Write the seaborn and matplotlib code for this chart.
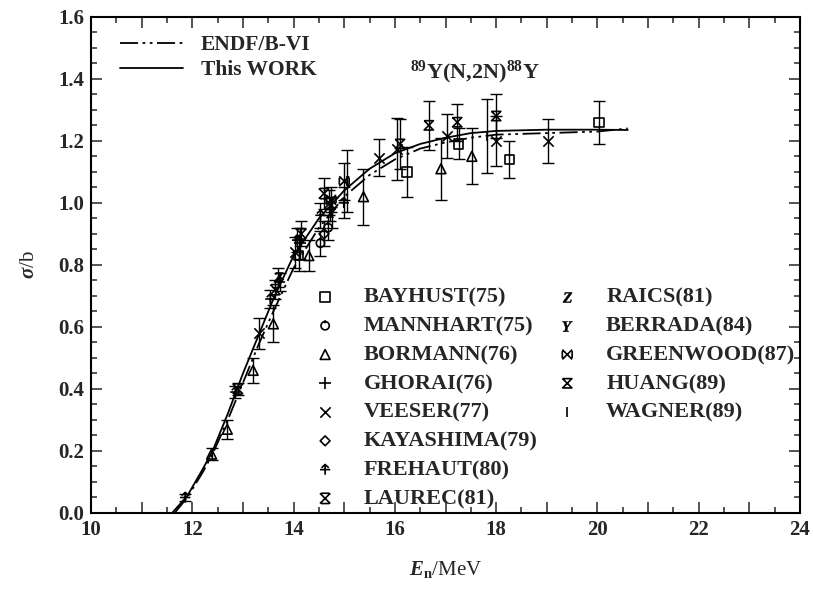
import numpy as np
import pandas as pd
import matplotlib
matplotlib.use("Agg")
import matplotlib.pyplot as plt
from matplotlib.path import Path
from matplotlib.ticker import MultipleLocator, FuncFormatter
import seaborn as sns

# ---------------- data ----------------
endf_x = [11.65, 11.9, 12.2, 12.4, 12.7, 13.0, 13.3, 13.6, 14.0, 14.5, 15.0, 15.5, 16.0, 16.5, 17.0, 17.5, 18.0, 19.0, 20.0, 20.6]
endf_y = [0.0, 0.05, 0.13, 0.19, 0.30, 0.42, 0.54, 0.65, 0.79, 0.92, 1.02, 1.09, 1.14, 1.175, 1.195, 1.21, 1.22, 1.225, 1.23, 1.24]
work_x = [11.6, 11.9, 12.2, 12.4, 12.7, 13.0, 13.3, 13.6, 14.0, 14.5, 15.0, 15.5, 16.0, 16.5, 17.0, 17.5, 18.0, 19.0, 20.0, 20.6]
work_y = [0.0, 0.055, 0.14, 0.20, 0.32, 0.45, 0.57, 0.69, 0.83, 0.95, 1.04, 1.11, 1.16, 1.19, 1.21, 1.225, 1.232, 1.236, 1.236, 1.235]

bayhust_x = [14.10, 16.24, 17.26, 18.26, 20.03]
bayhust_y = [0.83, 1.10, 1.19, 1.14, 1.26]
bayhust_e = [0.05, 0.08, 0.05, 0.06, 0.07]

mannhart_x = [14.53, 14.68]
mannhart_y = [0.87, 0.92]
mannhart_e = [0.04, 0.04]

bormann_x = [12.38, 12.69, 13.20, 13.60, 14.30, 15.38, 16.91, 17.52]
bormann_y = [0.19, 0.27, 0.46, 0.61, 0.83, 1.02, 1.11, 1.15]
bormann_e = [0.02, 0.03, 0.04, 0.06, 0.05, 0.09, 0.10, 0.09]

ghorai_x = [14.12, 14.72]
ghorai_y = [0.87, 0.98]
ghorai_e = [0.05, 0.04]

veeser_x = [13.31, 14.02, 14.70, 15.68, 16.04, 17.03, 18.00, 19.02]
veeser_y = [0.58, 0.84, 1.00, 1.146, 1.175, 1.216, 1.20, 1.20]
veeser_e = [0.05, 0.05, 0.04, 0.06, 0.10, 0.07, 0.08, 0.07]

kayashima_x = [14.60]
kayashima_y = [0.90]
kayashima_e = [0.04]

frehaut_x = [11.86, 12.85, 13.54, 13.73, 14.07, 14.53, 14.99]
frehaut_y = [0.05, 0.39, 0.69, 0.745, 0.88, 0.96, 1.00]
frehaut_e = [0.01, 0.02, 0.03, 0.03, 0.04, 0.04, 0.05]

laurec_x = [12.90, 13.64, 14.15, 14.60]
laurec_y = [0.40, 0.72, 0.90, 1.03]
laurec_e = [0.02, 0.03, 0.04, 0.05]

raics_x = [13.70]
raics_y = [0.76]
raics_e = [0.03]

berrada_x = [14.76]
berrada_y = [0.97]
berrada_e = [0.05]

greenwood_x = [14.74, 15.00]
greenwood_y = [1.01, 1.07]
greenwood_e = [0.04, 0.06]

huang_x = [16.10, 16.67, 17.23, 18.00]
huang_y = [1.19, 1.25, 1.26, 1.28]
huang_e = [0.08, 0.08, 0.06, 0.07]

wagner_x = [15.05, 17.82]
wagner_y = [1.07, 1.215]
wagner_e = [0.10, 0.12]

x_ticks = [10, 12, 14, 16, 18, 20, 22, 24]
y_ticks = [0.0, 0.2, 0.4, 0.6, 0.8, 1.0, 1.2, 1.4, 1.6]

# ---------------- custom markers ----------------
M, L = Path.MOVETO, Path.LINETO

def seg_path(segs):
    verts, codes = [], []
    for s in segs:
        for i, p in enumerate(s):
            verts.append(p)
            codes.append(M if i == 0 else L)
    return Path(verts, codes)

circle_tick = Path.make_compound_path(Path.unit_circle(), seg_path([[(0, 0.6), (0, 1.3)]]))
frehaut_m = seg_path([[(0, -1), (0, 1)], [(-1, 0), (1, 0)], [(-0.7, 0.35), (0, 1), (0.7, 0.35)]])
laurec_m = seg_path([[(-1, 1), (1, -1)], [(-1, -1), (1, 1)], [(-0.8, 1), (0.8, 1)], [(-0.8, -1), (0.8, -1)]])
greenwood_m = seg_path([[(-1, 1), (1, -1)], [(-1, -1), (1, 1)], [(-1, -0.7), (-1, 0.7)], [(1, -0.7), (1, 0.7)]])
huang_m = seg_path([[(-1, 1), (1, 1), (-1, -1), (1, -1), (-1, 1)]])

series = [
    ("BAYHUST(75)", bayhust_x, bayhust_y, bayhust_e, "s", "open", 45),
    ("MANNHART(75)", mannhart_x, mannhart_y, mannhart_e, circle_tick, "open", 60),
    ("BORMANN(76)", bormann_x, bormann_y, bormann_e, "^", "open", 50),
    ("GHORAI(76)", ghorai_x, ghorai_y, ghorai_e, "+", "line", 70),
    ("VEESER(77)", veeser_x, veeser_y, veeser_e, "x", "line", 55),
    ("KAYASHIMA(79)", kayashima_x, kayashima_y, kayashima_e, "D", "open", 25),
    ("FREHAUT(80)", frehaut_x, frehaut_y, frehaut_e, frehaut_m, "open", 55),
    ("LAUREC(81)", laurec_x, laurec_y, laurec_e, laurec_m, "open", 55),
    ("RAICS(81)", raics_x, raics_y, raics_e, "$Z$", "text", 55),
    ("BERRADA(84)", berrada_x, berrada_y, berrada_e, "$Y$", "text", 55),
    ("GREENWOOD(87)", greenwood_x, greenwood_y, greenwood_e, greenwood_m, "open", 50),
    ("HUANG(89)", huang_x, huang_y, huang_e, huang_m, "open", 45),
    ("WAGNER(89)", wagner_x, wagner_y, wagner_e, "|", "line", 60),
]

# ---------------- figure ----------------
sns.set_theme(style="ticks")
plt.rcParams["font.family"] = ["Liberation Serif", "DejaVu Serif"]
plt.rcParams["font.weight"] = "bold"
plt.rcParams["mathtext.fontset"] = "custom"
plt.rcParams["mathtext.rm"] = "Liberation Serif:bold"
plt.rcParams["mathtext.it"] = "Liberation Serif:italic:bold"
plt.rcParams["mathtext.bf"] = "Liberation Serif:bold"

fig = plt.figure(figsize=(8.13, 6.0), dpi=100)
ax = fig.add_axes([0.112, 0.145, 0.872, 0.827])

sns.lineplot(x=endf_x, y=endf_y, ax=ax, color="black", lw=1.3,
             linestyle=(0, (10, 2.5, 1.5, 2.5, 1.5, 2.5)), label="ENDF/B-VI",
             estimator=None, sort=False)
sns.lineplot(x=work_x, y=work_y, ax=ax, color="black", lw=1.3, label="This WORK",
             estimator=None, sort=False)

for name, xs, ys, es, mk, kind, size in series:
    ax.errorbar(xs, ys, yerr=es, fmt="none", ecolor="black", elinewidth=1.0,
                capsize=4, capthick=1.0, zorder=3)
    if kind == "line":
        sns.scatterplot(x=xs, y=ys, ax=ax, marker=mk, s=size, color="black",
                        linewidth=1.2, label=name, zorder=4)
    elif kind == "text":
        sns.scatterplot(x=xs, y=ys, ax=ax, marker=mk, s=size, color="black",
                        edgecolor="black", linewidth=0.3, label=name, zorder=4)
    else:
        sns.scatterplot(x=xs, y=ys, ax=ax, marker=mk, s=size, color="black",
                        facecolor="none", edgecolor="black", linewidth=1.2,
                        label=name, zorder=4)

handles, labels = ax.get_legend_handles_labels()
fs_leg = 16
leg_lines = ax.legend(handles[:2], labels[:2], loc="upper left", bbox_to_anchor=(0.041, 0.9625),
                      frameon=False, fontsize=15.5, handlelength=2.9, handletextpad=0.84,
                      labelspacing=0.22, borderpad=0, borderaxespad=0)
ax.add_artist(leg_lines)
leg1 = ax.legend(handles[2:10], labels[2:10], loc="upper left", bbox_to_anchor=(0.3145, 0.455),
                 frameon=False, fontsize=fs_leg, handlelength=1.0, handletextpad=1.25,
                 labelspacing=0.37, borderpad=0, borderaxespad=0)
ax.add_artist(leg1)
leg2 = ax.legend(handles[10:], labels[10:], loc="upper left", bbox_to_anchor=(0.656, 0.455),
                 frameon=False, fontsize=fs_leg, handlelength=1.0, handletextpad=1.25,
                 labelspacing=0.37, borderpad=0, borderaxespad=0)

ax.text(17.59, 1.42, r"$^{89}$Y(N,2N)$^{88}$Y", ha="center", va="center", fontsize=16,
        fontweight="bold")

ax.set_xlim(10, 24)
ax.set_ylim(0, 1.6)
ax.xaxis.set_major_locator(MultipleLocator(1))
ax.xaxis.set_minor_locator(MultipleLocator(0.5))
ax.xaxis.set_major_formatter(FuncFormatter(lambda v, p: f"{int(round(v))}" if int(round(v)) in x_ticks else ""))
ax.set_yticks(y_ticks)
ax.yaxis.set_major_formatter(FuncFormatter(lambda v, p: f"{v:.1f}"))
ax.yaxis.set_minor_locator(MultipleLocator(0.05))
ax.tick_params(which="both", direction="in", top=True, right=True, width=1.1,
               labelsize=15, pad=5)
ax.tick_params(which="major", length=8)
ax.tick_params(which="minor", length=4.5)
for sp in ax.spines.values():
    sp.set_linewidth(1.5)
    sp.set_color("black")

ax.set_xlabel(r"$E_{\rm n}$/MeV", fontsize=15, labelpad=14)
ax.set_ylabel(r"$\sigma$/b", fontsize=15, labelpad=14)

fig.savefig("out.png", dpi=100)
